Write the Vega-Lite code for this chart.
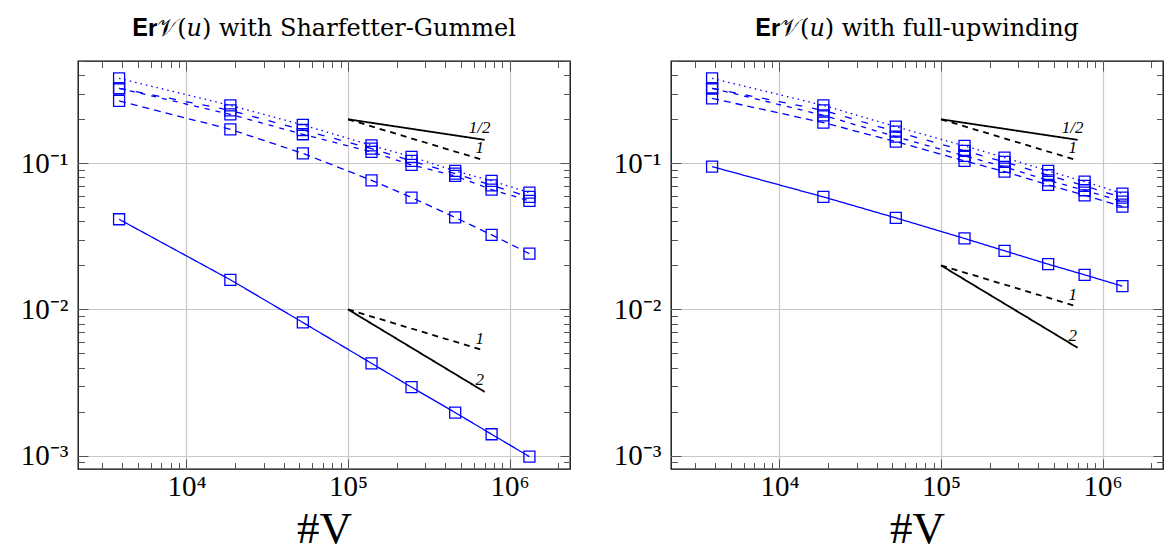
{
  "$schema": "https://vega.github.io/schema/vega-lite/v6.json",
  "padding": {"left": 19, "top": 16, "right": 2, "bottom": 0},
  "spacing": 40,
  "config": {
    "view": {"stroke": "black", "strokeWidth": 1.3},
    "font": "Liberation Serif",
    "title": {"font": "DejaVu Serif", "fontSize": 24, "fontWeight": "normal", "color": "black", "offset": 6},
    "axis": {"labelOverlap": false, "labelFlush": false, "labelBound": false, "domain": false, "labelColor": "black", "titleColor": "black"}
  },
  "datasets": {
    "sg": [
      {"s": "S1", "v": 3830, "e": 0.381}, {"s": "S1", "v": 18700, "e": 0.249}, {"s": "S1", "v": 52500, "e": 0.183}, {"s": "S1", "v": 139700, "e": 0.1327}, {"s": "S1", "v": 247000, "e": 0.1106}, {"s": "S1", "v": 460000, "e": 0.0887}, {"s": "S1", "v": 773000, "e": 0.0758}, {"s": "S1", "v": 1325000, "e": 0.063},
      {"s": "S2", "v": 3830, "e": 0.326}, {"s": "S2", "v": 18700, "e": 0.23}, {"s": "S2", "v": 52500, "e": 0.169}, {"s": "S2", "v": 139700, "e": 0.126}, {"s": "S2", "v": 247000, "e": 0.1038}, {"s": "S2", "v": 460000, "e": 0.0851}, {"s": "S2", "v": 773000, "e": 0.0707}, {"s": "S2", "v": 1325000, "e": 0.0589},
      {"s": "S3", "v": 3830, "e": 0.326}, {"s": "S3", "v": 18700, "e": 0.216}, {"s": "S3", "v": 52500, "e": 0.158}, {"s": "S3", "v": 139700, "e": 0.1197}, {"s": "S3", "v": 247000, "e": 0.0975}, {"s": "S3", "v": 460000, "e": 0.082}, {"s": "S3", "v": 773000, "e": 0.0661}, {"s": "S3", "v": 1325000, "e": 0.0553},
      {"s": "S4", "v": 3830, "e": 0.267}, {"s": "S4", "v": 18700, "e": 0.1706}, {"s": "S4", "v": 52500, "e": 0.117}, {"s": "S4", "v": 139700, "e": 0.0765}, {"s": "S4", "v": 247000, "e": 0.0583}, {"s": "S4", "v": 460000, "e": 0.0426}, {"s": "S4", "v": 773000, "e": 0.0324}, {"s": "S4", "v": 1325000, "e": 0.0241},
      {"s": "S5", "v": 3830, "e": 0.0414}, {"s": "S5", "v": 18700, "e": 0.01596}, {"s": "S5", "v": 52500, "e": 0.00815}, {"s": "S5", "v": 139700, "e": 0.00428}, {"s": "S5", "v": 247000, "e": 0.00294}, {"s": "S5", "v": 460000, "e": 0.00197}, {"s": "S5", "v": 773000, "e": 0.0014}, {"s": "S5", "v": 1325000, "e": 0.000984}
    ],
    "fu": [
      {"s": "S1", "v": 3830, "e": 0.381}, {"s": "S1", "v": 18700, "e": 0.249}, {"s": "S1", "v": 52500, "e": 0.178}, {"s": "S1", "v": 139700, "e": 0.1316}, {"s": "S1", "v": 247000, "e": 0.1094}, {"s": "S1", "v": 460000, "e": 0.0887}, {"s": "S1", "v": 773000, "e": 0.075}, {"s": "S1", "v": 1325000, "e": 0.0621},
      {"s": "S2", "v": 3830, "e": 0.326}, {"s": "S2", "v": 18700, "e": 0.23}, {"s": "S2", "v": 52500, "e": 0.1648}, {"s": "S2", "v": 139700, "e": 0.1216}, {"s": "S2", "v": 247000, "e": 0.1022}, {"s": "S2", "v": 460000, "e": 0.0828}, {"s": "S2", "v": 773000, "e": 0.0701}, {"s": "S2", "v": 1325000, "e": 0.0583},
      {"s": "S3", "v": 3830, "e": 0.326}, {"s": "S3", "v": 18700, "e": 0.213}, {"s": "S3", "v": 52500, "e": 0.152}, {"s": "S3", "v": 139700, "e": 0.1124}, {"s": "S3", "v": 247000, "e": 0.0945}, {"s": "S3", "v": 460000, "e": 0.0765}, {"s": "S3", "v": 773000, "e": 0.0654}, {"s": "S3", "v": 1325000, "e": 0.0547},
      {"s": "S4", "v": 3830, "e": 0.278}, {"s": "S4", "v": 18700, "e": 0.1897}, {"s": "S4", "v": 52500, "e": 0.1407}, {"s": "S4", "v": 139700, "e": 0.1038}, {"s": "S4", "v": 247000, "e": 0.0878}, {"s": "S4", "v": 460000, "e": 0.0712}, {"s": "S4", "v": 773000, "e": 0.0604}, {"s": "S4", "v": 1325000, "e": 0.0506},
      {"s": "S5", "v": 3830, "e": 0.0949}, {"s": "S5", "v": 18700, "e": 0.0589}, {"s": "S5", "v": 52500, "e": 0.0423}, {"s": "S5", "v": 139700, "e": 0.0306}, {"s": "S5", "v": 247000, "e": 0.0252}, {"s": "S5", "v": 460000, "e": 0.0204}, {"s": "S5", "v": 773000, "e": 0.01726}, {"s": "S5", "v": 1325000, "e": 0.01443}
    ],
    "refsg": [
      {"seg": "a", "d": "solid", "v": 100000, "e": 0.2}, {"seg": "a", "d": "solid", "v": 700000, "e": 0.1447},
      {"seg": "b", "d": "dash", "v": 100000, "e": 0.2}, {"seg": "b", "d": "dash", "v": 700000, "e": 0.1046},
      {"seg": "c", "d": "dash", "v": 100000, "e": 0.01}, {"seg": "c", "d": "dash", "v": 700000, "e": 0.00523},
      {"seg": "d", "d": "solid", "v": 100000, "e": 0.01}, {"seg": "d", "d": "solid", "v": 700000, "e": 0.00273}
    ],
    "reffu": [
      {"seg": "a", "d": "solid", "v": 100000, "e": 0.2}, {"seg": "a", "d": "solid", "v": 700000, "e": 0.1447},
      {"seg": "b", "d": "dash", "v": 100000, "e": 0.2}, {"seg": "b", "d": "dash", "v": 700000, "e": 0.1046},
      {"seg": "c", "d": "dash", "v": 100000, "e": 0.02}, {"seg": "c", "d": "dash", "v": 700000, "e": 0.01046},
      {"seg": "d", "d": "solid", "v": 100000, "e": 0.02}, {"seg": "d", "d": "solid", "v": 700000, "e": 0.00547}
    ],
    "lblsg": [
      {"t": "1/2", "v": 700000, "e": 0.1447}, {"t": "1", "v": 700000, "e": 0.1046},
      {"t": "1", "v": 700000, "e": 0.00523}, {"t": "2", "v": 700000, "e": 0.00273}
    ],
    "lblfu": [
      {"t": "1/2", "v": 700000, "e": 0.1447}, {"t": "1", "v": 700000, "e": 0.1046},
      {"t": "1", "v": 700000, "e": 0.01046}, {"t": "2", "v": 700000, "e": 0.00547}
    ]
  },
  "hconcat": [
    {
      "width": 492, "height": 408,
      "title": {"text": "𝐄𝐫𝒱(𝑢) with Sharfetter-Gummel"},
      "resolve": {"axis": {"x": "independent", "y": "independent"}, "scale": {"strokeDash": "independent"}},
      "layer": [
        {
          "data": {"name": "sg"},
          "mark": {"type": "line", "color": "#0000ff", "strokeWidth": 1.3},
          "encoding": {
            "x": {"field": "v", "type": "quantitative", "scale": {"type": "log", "domain": [2133, 2362000], "nice": false},
              "axis": {"orient": "bottom", "values": [3000,4000,5000,6000,7000,8000,9000,10000,20000,30000,40000,50000,60000,70000,80000,90000,100000,200000,300000,400000,500000,600000,700000,800000,900000,1000000,2000000],
                "labelExpr": "datum.value == 10000 ? '10⁴' : datum.value == 100000 ? '10⁵' : datum.value == 1000000 ? '10⁶' : ''",
                "tickSize": {"condition": {"test": "abs(log(datum.value)/LN10 - round(log(datum.value)/LN10)) < 0.001", "value": -10}, "value": -6.5},
                "tickColor": "#555", "tickWidth": 1,
                "grid": true, "gridColor": "#c8c8c8", "gridWidth": 1.2,
                "gridOpacity": {"condition": {"test": "abs(log(datum.value)/LN10 - round(log(datum.value)/LN10)) < 0.001", "value": 1}, "value": 0},
                "labelFontSize": 29, "labelPadding": 13, "title": "#V", "titleFontSize": 45, "titleFontWeight": "normal", "titlePadding": 2}},
            "y": {"field": "e", "type": "quantitative", "scale": {"type": "log", "domain": [0.00081, 0.501], "nice": false},
              "axis": {"orient": "left", "values": [0.0009,0.002,0.003,0.004,0.005,0.006,0.007,0.008,0.009,0.001,0.01,0.02,0.03,0.04,0.05,0.06,0.07,0.08,0.09,0.1,0.2,0.3,0.4,0.5],
                "labelExpr": "datum.value == 0.1 ? '10⁻¹' : datum.value == 0.01 ? '10⁻²' : datum.value == 0.001 ? '10⁻³' : ''",
                "tickSize": {"condition": {"test": "abs(log(datum.value)/LN10 - round(log(datum.value)/LN10)) < 0.001", "value": -10}, "value": -6.5},
                "tickColor": "#555", "tickWidth": 1,
                "grid": true, "gridColor": "#c8c8c8", "gridWidth": 1.2,
                "gridOpacity": {"condition": {"test": "abs(log(datum.value)/LN10 - round(log(datum.value)/LN10)) < 0.001", "value": 1}, "value": 0},
                "labelFontSize": 29, "labelPadding": 20, "title": null}},
            "detail": {"field": "s"},
            "strokeDash": {"field": "s", "type": "nominal", "legend": null, "scale": {"domain": ["S1","S2","S3","S4","S5"], "range": [[1.5,4],[7,10],[5,6],[7,5],[1,0]]}}
          }
        },
        {
          "data": {"name": "sg"},
          "mark": {"type": "point", "shape": "square", "filled": false, "color": "#0000ff", "size": 121, "strokeWidth": 1.3, "opacity": 1},
          "encoding": {
            "x": {"field": "v", "type": "quantitative",
              "axis": {"orient": "top", "values": [3000,4000,5000,6000,7000,8000,9000,10000,20000,30000,40000,50000,60000,70000,80000,90000,100000,200000,300000,400000,500000,600000,700000,800000,900000,1000000,2000000],
                "labels": false, "grid": false, "title": null,
                "tickSize": {"condition": {"test": "abs(log(datum.value)/LN10 - round(log(datum.value)/LN10)) < 0.001", "value": -10}, "value": -6.5},
                "tickColor": "#555", "tickWidth": 1}},
            "y": {"field": "e", "type": "quantitative",
              "axis": {"orient": "right", "values": [0.0009,0.002,0.003,0.004,0.005,0.006,0.007,0.008,0.009,0.001,0.01,0.02,0.03,0.04,0.05,0.06,0.07,0.08,0.09,0.1,0.2,0.3,0.4,0.5],
                "labels": false, "grid": false, "title": null,
                "tickSize": {"condition": {"test": "abs(log(datum.value)/LN10 - round(log(datum.value)/LN10)) < 0.001", "value": -10}, "value": -6.5},
                "tickColor": "#555", "tickWidth": 1}}
          }
        },
        {
          "data": {"name": "refsg"},
          "mark": {"type": "line", "color": "black", "strokeWidth": 1.8},
          "encoding": {
            "x": {"field": "v", "type": "quantitative", "axis": null},
            "y": {"field": "e", "type": "quantitative", "axis": null},
            "detail": {"field": "seg"},
            "strokeDash": {"field": "d", "type": "nominal", "legend": null, "scale": {"domain": ["solid", "dash"], "range": [[1,0],[6,5]]}}
          }
        },
        {
          "data": {"name": "lblsg"},
          "mark": {"type": "text", "font": "Liberation Serif", "fontStyle": "italic", "fontSize": 17, "dx": -5, "dy": -12, "baseline": "middle", "align": "center", "color": "black"},
          "encoding": {
            "x": {"field": "v", "type": "quantitative", "axis": null},
            "y": {"field": "e", "type": "quantitative", "axis": null},
            "text": {"field": "t"}
          }
        }
      ]
    },
    {
      "width": 492, "height": 408,
      "title": {"text": "𝐄𝐫𝒱(𝑢) with full-upwinding"},
      "resolve": {"axis": {"x": "independent", "y": "independent"}, "scale": {"strokeDash": "independent"}},
      "layer": [
        {
          "data": {"name": "fu"},
          "mark": {"type": "line", "color": "#0000ff", "strokeWidth": 1.3},
          "encoding": {
            "x": {"field": "v", "type": "quantitative", "scale": {"type": "log", "domain": [2133, 2362000], "nice": false},
              "axis": {"orient": "bottom", "values": [3000,4000,5000,6000,7000,8000,9000,10000,20000,30000,40000,50000,60000,70000,80000,90000,100000,200000,300000,400000,500000,600000,700000,800000,900000,1000000,2000000],
                "labelExpr": "datum.value == 10000 ? '10⁴' : datum.value == 100000 ? '10⁵' : datum.value == 1000000 ? '10⁶' : ''",
                "tickSize": {"condition": {"test": "abs(log(datum.value)/LN10 - round(log(datum.value)/LN10)) < 0.001", "value": -10}, "value": -6.5},
                "tickColor": "#555", "tickWidth": 1,
                "grid": true, "gridColor": "#c8c8c8", "gridWidth": 1.2,
                "gridOpacity": {"condition": {"test": "abs(log(datum.value)/LN10 - round(log(datum.value)/LN10)) < 0.001", "value": 1}, "value": 0},
                "labelFontSize": 29, "labelPadding": 13, "title": "#V", "titleFontSize": 45, "titleFontWeight": "normal", "titlePadding": 2}},
            "y": {"field": "e", "type": "quantitative", "scale": {"type": "log", "domain": [0.00081, 0.501], "nice": false},
              "axis": {"orient": "left", "values": [0.0009,0.002,0.003,0.004,0.005,0.006,0.007,0.008,0.009,0.001,0.01,0.02,0.03,0.04,0.05,0.06,0.07,0.08,0.09,0.1,0.2,0.3,0.4,0.5],
                "labelExpr": "datum.value == 0.1 ? '10⁻¹' : datum.value == 0.01 ? '10⁻²' : datum.value == 0.001 ? '10⁻³' : ''",
                "tickSize": {"condition": {"test": "abs(log(datum.value)/LN10 - round(log(datum.value)/LN10)) < 0.001", "value": -10}, "value": -6.5},
                "tickColor": "#555", "tickWidth": 1,
                "grid": true, "gridColor": "#c8c8c8", "gridWidth": 1.2,
                "gridOpacity": {"condition": {"test": "abs(log(datum.value)/LN10 - round(log(datum.value)/LN10)) < 0.001", "value": 1}, "value": 0},
                "labelFontSize": 29, "labelPadding": 20, "title": null}},
            "detail": {"field": "s"},
            "strokeDash": {"field": "s", "type": "nominal", "legend": null, "scale": {"domain": ["S1","S2","S3","S4","S5"], "range": [[1.5,4],[7,10],[5,6],[7,5],[1,0]]}}
          }
        },
        {
          "data": {"name": "fu"},
          "mark": {"type": "point", "shape": "square", "filled": false, "color": "#0000ff", "size": 121, "strokeWidth": 1.3, "opacity": 1},
          "encoding": {
            "x": {"field": "v", "type": "quantitative",
              "axis": {"orient": "top", "values": [3000,4000,5000,6000,7000,8000,9000,10000,20000,30000,40000,50000,60000,70000,80000,90000,100000,200000,300000,400000,500000,600000,700000,800000,900000,1000000,2000000],
                "labels": false, "grid": false, "title": null,
                "tickSize": {"condition": {"test": "abs(log(datum.value)/LN10 - round(log(datum.value)/LN10)) < 0.001", "value": -10}, "value": -6.5},
                "tickColor": "#555", "tickWidth": 1}},
            "y": {"field": "e", "type": "quantitative",
              "axis": {"orient": "right", "values": [0.0009,0.002,0.003,0.004,0.005,0.006,0.007,0.008,0.009,0.001,0.01,0.02,0.03,0.04,0.05,0.06,0.07,0.08,0.09,0.1,0.2,0.3,0.4,0.5],
                "labels": false, "grid": false, "title": null,
                "tickSize": {"condition": {"test": "abs(log(datum.value)/LN10 - round(log(datum.value)/LN10)) < 0.001", "value": -10}, "value": -6.5},
                "tickColor": "#555", "tickWidth": 1}}
          }
        },
        {
          "data": {"name": "reffu"},
          "mark": {"type": "line", "color": "black", "strokeWidth": 1.8},
          "encoding": {
            "x": {"field": "v", "type": "quantitative", "axis": null},
            "y": {"field": "e", "type": "quantitative", "axis": null},
            "detail": {"field": "seg"},
            "strokeDash": {"field": "d", "type": "nominal", "legend": null, "scale": {"domain": ["solid", "dash"], "range": [[1,0],[6,5]]}}
          }
        },
        {
          "data": {"name": "lblfu"},
          "mark": {"type": "text", "font": "Liberation Serif", "fontStyle": "italic", "fontSize": 17, "dx": -5, "dy": -12, "baseline": "middle", "align": "center", "color": "black"},
          "encoding": {
            "x": {"field": "v", "type": "quantitative", "axis": null},
            "y": {"field": "e", "type": "quantitative", "axis": null},
            "text": {"field": "t"}
          }
        }
      ]
    }
  ]
}
